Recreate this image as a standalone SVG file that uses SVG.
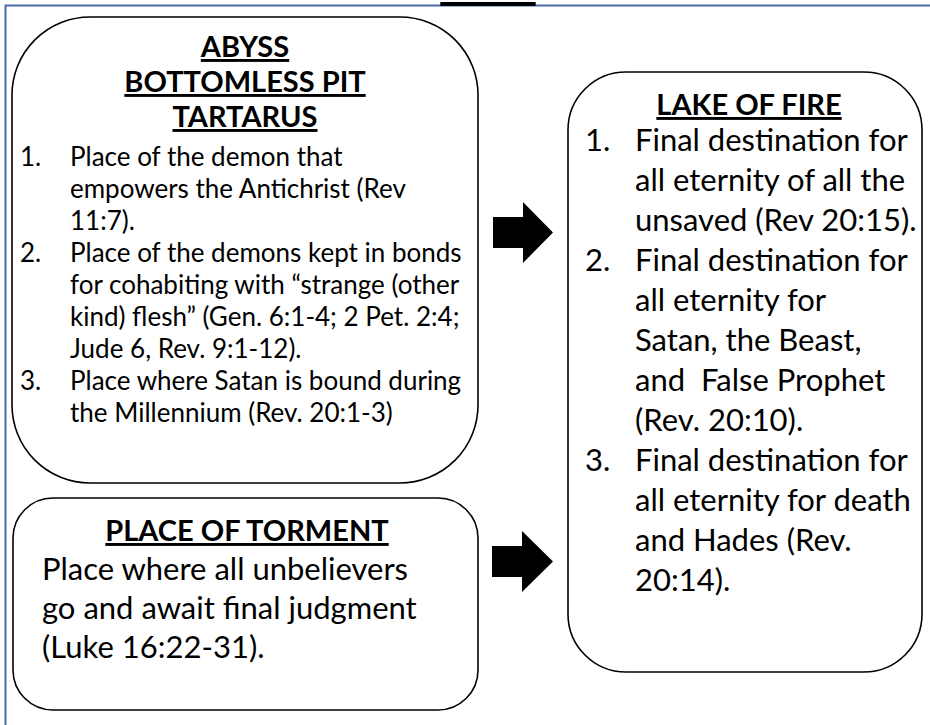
<svg xmlns="http://www.w3.org/2000/svg" width="930" height="725" viewBox="0 0 930 725">
<style>
.t{font-family:Lato,"Liberation Sans",sans-serif;fill:#000}
.h{font-weight:bold;font-size:29px;text-decoration:underline;text-anchor:middle}
.s{font-size:26px}
.m{font-size:31px}
.box{fill:#fff;stroke:#000;stroke-width:1.6}
.arrow{fill:#000}
</style>
<rect width="930" height="725" fill="#fff"/>
<g id="frame"><path d="M5.5,725 V5.5 H930" fill="none" stroke="#4a6aa8" stroke-width="2"/></g>
<g id="title"><text class="t h" x="488" y="0" style="font-size:40px">HELL</text></g>
<g id="abyss">
<rect class="box" x="12" y="17" width="466" height="466" rx="78" ry="78"/>
<text class="t h" x="245" y="57">ABYSS</text>
<text class="t h" x="245" y="92">BOTTOMLESS PIT</text>
<text class="t h" x="245" y="127">TARTARUS</text>
<g class="t s">
<text x="20" y="166">1.</text><text x="70" y="166">Place of the demon that</text>
<text x="70" y="198">empowers the Antichrist (Rev</text>
<text x="70" y="230">11:7).</text>
<text x="20" y="262">2.</text><text x="70" y="262">Place of the demons kept in bonds</text>
<text x="70" y="294">for cohabiting with “strange (other</text>
<text x="70" y="326">kind) flesh” (Gen. 6:1-4; 2 Pet. 2:4;</text>
<text x="70" y="358">Jude 6, Rev. 9:1-12).</text>
<text x="20" y="390">3.</text><text x="70" y="390">Place where Satan is bound during</text>
<text x="70" y="422">the Millennium (Rev. 20:1-3)</text>
</g>
</g>
<g id="torment">
<rect class="box" x="13" y="498" width="465" height="212" rx="40" ry="40"/>
<text class="t h" x="247" y="541">PLACE OF TORMENT</text>
<g class="t m">
<text x="42" y="580">Place where all unbelievers</text>
<text x="42" y="619">go and await final judgment</text>
<text x="42" y="658">(Luke 16:22-31).</text>
</g>
</g>
<g id="lake">
<rect class="box" x="568" y="72" width="354" height="600" rx="58" ry="58"/>
<text class="t h" x="749" y="115">LAKE OF FIRE</text>
<g class="t m">
<text x="585" y="151">1.</text><text x="635" y="151">Final destination for</text>
<text x="635" y="191">all eternity of all the</text>
<text x="635" y="231">unsaved (Rev 20:15).</text>
<text x="585" y="271">2.</text><text x="635" y="271">Final destination for</text>
<text x="635" y="311">all eternity for</text>
<text x="635" y="351">Satan, the Beast,</text>
<text x="635" y="391" xml:space="preserve">and  False Prophet</text>
<text x="635" y="431">(Rev. 20:10).</text>
<text x="585" y="471">3.</text><text x="635" y="471">Final destination for</text>
<text x="635" y="511">all eternity for death</text>
<text x="635" y="551">and Hades (Rev.</text>
<text x="635" y="591">20:14).</text>
</g>
</g>
<g id="connectors">
<path class="arrow" d="M493,217 H523 V202 L553,232.5 L523,263 V248 H493 Z"/>
<path class="arrow" d="M492,546 H522 V531 L553,561.5 L522,592 V577 H492 Z"/>
</g>
</svg>
